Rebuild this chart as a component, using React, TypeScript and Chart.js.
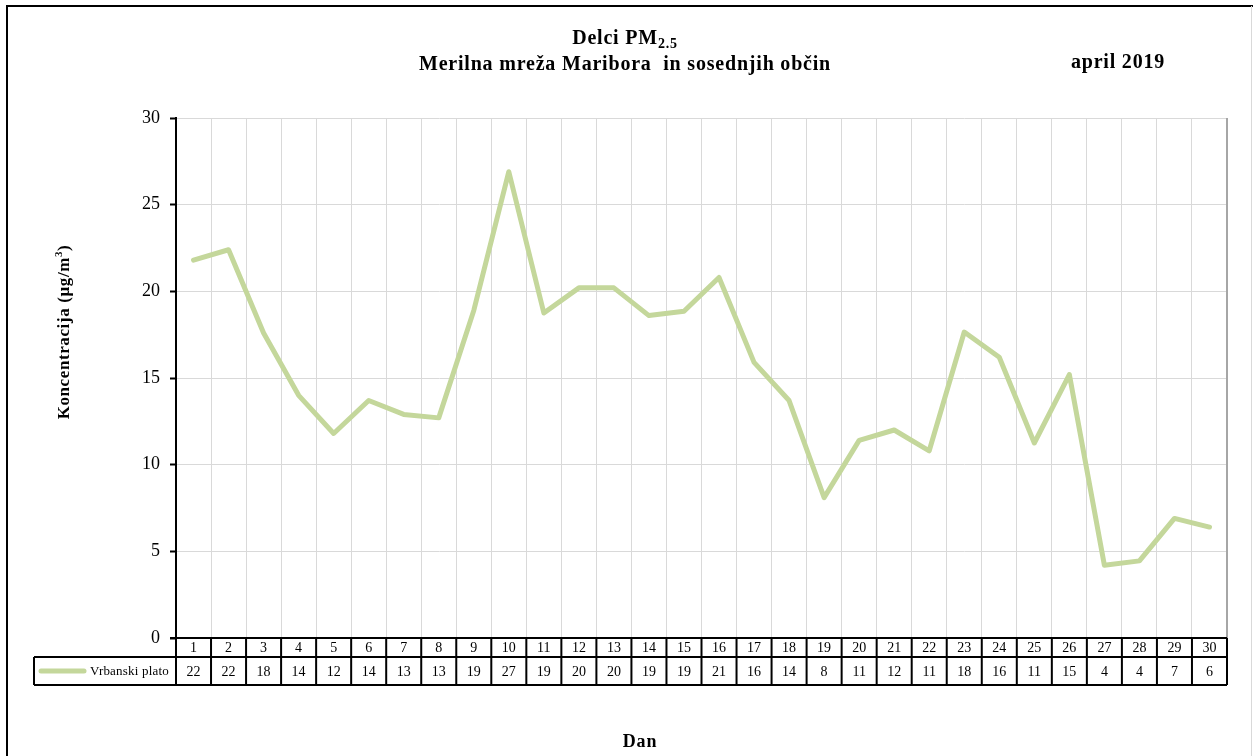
import React, { useEffect, useRef } from "react";
import { Chart, registerables } from "chart.js";
Chart.register(...registerables);

const days: string[] = ["1","2","3","4","5","6","7","8","9","10","11","12","13","14","15","16","17","18","19","20","21","22","23","24","25","26","27","28","29","30"];
const vrbanskiPlato: number[] = [21.8,22.4,17.6,14.0,11.8,13.7,12.9,12.7,18.9,26.9,18.75,20.2,20.2,18.6,18.85,20.8,15.9,13.7,8.1,11.4,12.0,10.8,17.65,16.2,11.25,15.2,4.2,4.45,6.9,6.4];
const tableValues: string[] = ["22","22","18","14","12","14","13","13","19","27","19","20","20","19","19","21","16","14","8","11","12","11","18","16","11","15","4","4","7","6"];
const seriesName = "Vrbanski plato";
const yTicks: number[] = [0, 5, 10, 15, 20, 25, 30];

const GREEN = "#c4d79b";
const SERIF = "'Liberation Serif', 'Times New Roman', serif";

const overlay = {
  id: "overlay",
  afterDraw(chart: any) {
    const ctx = chart.ctx as any;
    const area = chart.chartArea;
    const x = chart.scales.x;
    const W = chart.width;
    const H = chart.height;
    ctx.save();

    // outer frame
    ctx.strokeStyle = "#000";
    ctx.lineWidth = 2;
    ctx.beginPath();
    ctx.moveTo(7, H);
    ctx.lineTo(7, 6);
    ctx.lineTo(W, 6);
    ctx.stroke();
    ctx.strokeStyle = "#d9d9d9";
    ctx.lineWidth = 1;
    ctx.beginPath();
    ctx.moveTo(W - 1.5, 6);
    ctx.lineTo(W - 1.5, H);
    ctx.stroke();

    // plot right border
    ctx.strokeStyle = "#a6a6a6";
    ctx.lineWidth = 2;
    ctx.beginPath();
    ctx.moveTo(area.right, area.top);
    ctx.lineTo(area.right, area.bottom);
    ctx.stroke();

    // data table
    const y0 = area.bottom;
    const y1 = y0 + 19;
    const y2 = y1 + 28;
    const legendLeft = 34;
    const n = days.length;
    const step = (area.right - area.left) / n;
    ctx.strokeStyle = "#000";
    ctx.lineWidth = 2;
    ctx.beginPath();
    ctx.moveTo(area.left - 6, y0);
    ctx.lineTo(area.right, y0);
    ctx.moveTo(legendLeft, y1);
    ctx.lineTo(area.right, y1);
    ctx.moveTo(legendLeft, y2);
    ctx.lineTo(area.right, y2);
    ctx.moveTo(legendLeft, y1);
    ctx.lineTo(legendLeft, y2);
    for (let i = 0; i <= n; i++) {
      const bx = x.getPixelForValue(Math.min(i, n - 1)) + (i === n ? step / 2 : -step / 2);
      ctx.moveTo(bx, y0);
      ctx.lineTo(bx, y2);
    }
    ctx.stroke();

    ctx.fillStyle = "#000";
    ctx.font = `14px ${SERIF}`;
    ctx.textAlign = "center";
    ctx.textBaseline = "middle";
    for (let i = 0; i < n; i++) {
      const cx = x.getPixelForValue(i);
      ctx.fillText(days[i], cx, (y0 + y1) / 2 + 1);
      ctx.fillText(tableValues[i], cx, (y1 + y2) / 2 + 1);
    }
    // legend cell
    ctx.strokeStyle = GREEN;
    ctx.lineWidth = 5;
    ctx.lineCap = "round";
    ctx.beginPath();
    ctx.moveTo(41, (y1 + y2) / 2);
    ctx.lineTo(84, (y1 + y2) / 2);
    ctx.stroke();
    ctx.font = `13px ${SERIF}`;
    ctx.textAlign = "right";
    ctx.letterSpacing = "0.2px";
    ctx.fillText(seriesName, area.left - 7, (y1 + y2) / 2 + 1);

    // titles
    ctx.textBaseline = "alphabetic";
    ctx.textAlign = "left";
    ctx.letterSpacing = "0.8px";
    const cxTitle = 625;
    const big = `bold 20px ${SERIF}`;
    const sub = `bold 14px ${SERIF}`;
    ctx.font = big;
    const t1 = "Delci PM";
    const w1 = ctx.measureText(t1).width;
    ctx.font = sub;
    const w2 = ctx.measureText("2.5").width;
    const start = cxTitle - (w1 + w2) / 2;
    ctx.font = big;
    ctx.fillText(t1, start, 44);
    ctx.font = sub;
    ctx.fillText("2.5", start + w1, 48);
    ctx.font = big;
    ctx.textAlign = "center";
    ctx.fillText("Merilna mreža Maribora  in sosednjih občin", cxTitle, 70);
    ctx.fillText("april 2019", 1118, 68);

    // x title
    ctx.font = `bold 18px ${SERIF}`;
    ctx.fillText("Dan", 640, 747);

    // y title rotated
    ctx.letterSpacing = "0.6px";
    ctx.translate(69, 332);
    ctx.rotate(-Math.PI / 2);
    const ya = "Koncentracija (µg/m";
    ctx.font = `bold 17px ${SERIF}`;
    const wa = ctx.measureText(ya).width;
    ctx.font = `bold 11px ${SERIF}`;
    const wb = ctx.measureText("3").width;
    ctx.font = `bold 17px ${SERIF}`;
    const wc = ctx.measureText(")").width;
    const sx = -(wa + wb + wc) / 2;
    ctx.textAlign = "left";
    ctx.fillText(ya, sx, 0);
    ctx.font = `bold 11px ${SERIF}`;
    ctx.fillText("3", sx + wa, -7);
    ctx.font = `bold 17px ${SERIF}`;
    ctx.fillText(")", sx + wa + wb, 0);

    ctx.restore();
  },
};

export default function App() {
  const ref = useRef<HTMLCanvasElement | null>(null);
  useEffect(() => {
    if (!ref.current) return;
    const chart = new Chart(ref.current, {
      type: "line",
      data: {
        labels: days,
        datasets: [
          {
            label: seriesName,
            data: vrbanskiPlato,
            borderColor: GREEN,
            backgroundColor: GREEN,
            borderWidth: 5,
            pointRadius: 0,
            tension: 0,
            borderJoinStyle: "round",
            borderCapStyle: "round",
            fill: false,
          },
        ],
      },
      options: {
        animation: false,
        responsive: false,
        layout: { padding: { left: 0, top: 118, right: 26, bottom: 118 } },
        plugins: { legend: { display: false }, title: { display: false }, tooltip: { enabled: false } },
        scales: {
          x: {
            type: "category",
            offset: true,
            grid: { offset: true, color: "#d9d9d9", lineWidth: 1, drawTicks: false },
            border: { display: false },
            ticks: { display: false },
            afterFit(scale: any) {
              scale.height = 0;
            },
          },
          y: {
            min: 0,
            max: 30,
            afterBuildTicks(scale: any) {
              scale.ticks = yTicks.map((v) => ({ value: v }));
            },
            grid: { color: "#d9d9d9", lineWidth: 1, tickColor: "#000", tickLength: 6, tickWidth: 2 },
            border: { display: true, color: "#000", width: 2 },
            ticks: { color: "#000", padding: 10, font: { family: SERIF, size: 18 } },
            afterFit(scale: any) {
              scale.width = 176;
            },
          },
        },
      },
      plugins: [overlay],
    });
    return () => chart.destroy();
  }, []);
  return (
    <div style={{ position: "absolute", left: 0, top: 0, width: 1253, height: 756, background: "#fff" }}>
      <canvas ref={ref} width={1253} height={756} style={{ display: "block" }} />
    </div>
  );
}
